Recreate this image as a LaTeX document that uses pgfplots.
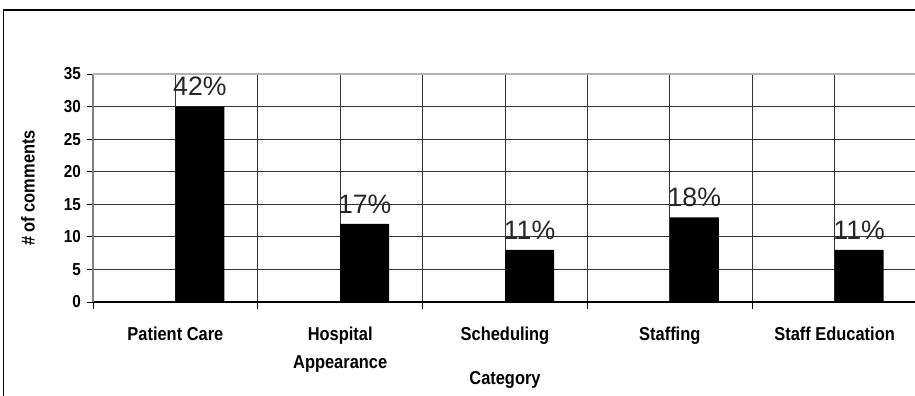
\documentclass[border=0pt]{standalone}
\usepackage{pgfplots}
\pgfplotsset{compat=1.18}
\usepackage{fontspec}
\setmainfont{Liberation Sans}
\newfontfamily\narrowbold{Liberation Sans}[FakeStretch=0.88, BoldFont={* Bold}]
\begin{document}
\begin{tikzpicture}
\useasboundingbox (0,0) rectangle (686.25pt,297pt);
\draw[line width=1.2pt] (2.5pt,0) -- (2.5pt,289.5pt) -- (690pt,289.5pt);
\begin{axis}[
  at={(69.75pt,70.5pt)}, anchor=south west,
  scale only axis, width=618pt, height=171pt,
  xmin=-0.5, xmax=4.5, ymin=0, ymax=35,
  axis x line*=bottom, axis y line*=left,
  x axis line style={black, line width=0.8pt, -},
  y axis line style={gray, line width=0.8pt, -},
  ytick={0,5,...,35},
  xtick={0,1,2,3,4},
  xticklabels={Patient Care, Hospital\\Appearance, Scheduling, Staffing, Staff Education},
  minor xtick={-0.5,0.5,1.5,2.5,3.5,4.5},
  xmajorgrids, xminorgrids, ymajorgrids,
  major grid style={black!80, line width=0.7pt},
  minor grid style={black!80, line width=0.7pt},
  x tick style={draw=none},
  minor x tick style={draw=black, line width=0.6pt},
  y tick style={draw=black, line width=0.6pt},
  tick align=outside,
  major tick length=4.5pt, minor tick length=5pt,
  /pgf/number format/assume math mode=true,
  yticklabel style={font=\fontsize{13}{15}\selectfont\narrowbold\bfseries, xshift=-1pt},
  xticklabel style={font=\fontsize{14}{20.5}\selectfont\narrowbold\bfseries, align=center, anchor=north, yshift=-11pt},
  xlabel={Category},
  xlabel style={font=\fontsize{14}{16}\selectfont\narrowbold\bfseries, at={(axis description cs:0.5,-0.342)}, anchor=center},
  ylabel={\# of comments},
  ylabel style={font=\fontsize{14}{16}\selectfont\narrowbold\bfseries, at={(axis description cs:-0.079,0.5)}, anchor=center, rotate=0},
  ybar, bar width=36.75pt, bar shift=18.4pt,
  nodes near coords,
  point meta=explicit symbolic,
  every node near coord/.style={font=\fontsize{20}{22}\selectfont, inner sep=0pt, anchor=base, xshift=18.4pt, yshift=8pt, text=black!85},
  clip=false,
]
\addplot[fill=black, draw=none] coordinates {
  (0,30) [42\%]
  (1,12) [17\%]
  (2,8) [11\%]
  (3,13) [18\%]
  (4,8) [11\%]
};
\draw[black!30, line width=0.8pt] (axis cs:-0.5,35) -- (axis cs:4.5,35);
\end{axis}
\end{tikzpicture}
\end{document}
